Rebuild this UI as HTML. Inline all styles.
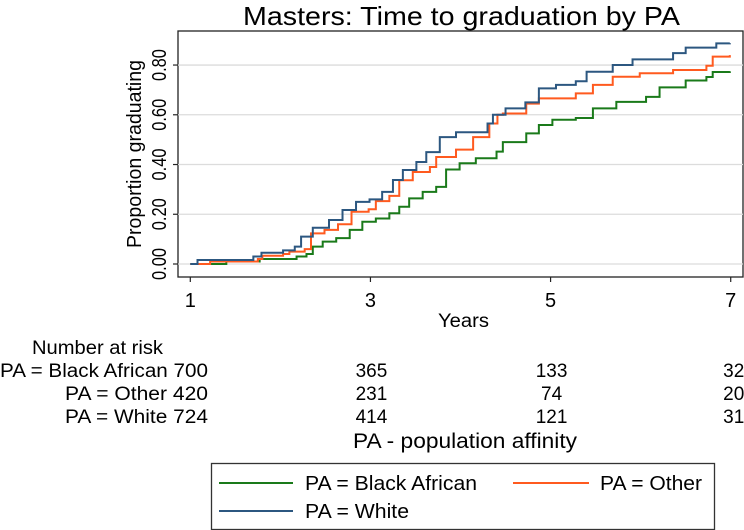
<!DOCTYPE html>
<html><head><meta charset="utf-8"><style>
body{margin:0;background:#fff;}
svg{display:block;font-family:"Liberation Sans",Arial,sans-serif;}
</style></head><body>
<svg id="chart" width="744" height="530" viewBox="0 0 744 530">
<text x="243" y="25" font-size="26" textLength="437" lengthAdjust="spacingAndGlyphs">Masters: Time to graduation by PA</text>
<rect x="178" y="31" width="565" height="246" fill="none" stroke="#222" stroke-width="1.3"/>
<g id="grid"></g><g id="axes"></g><g id="series"></g>
<text transform="translate(141,154) rotate(-90)" font-size="20" text-anchor="middle" textLength="188" lengthAdjust="spacingAndGlyphs">Proportion graduating</text>
<text x="438" y="327" font-size="19" textLength="51" lengthAdjust="spacingAndGlyphs">Years</text>
<text x="32" y="354" font-size="19" textLength="131" lengthAdjust="spacingAndGlyphs">Number at risk</text>
<g id="risk"></g>
<text x="353" y="448" font-size="21" textLength="224" lengthAdjust="spacingAndGlyphs">PA - population affinity</text>
<g>
<rect x="211.5" y="463.5" width="503" height="66" fill="#fff" stroke="#333" stroke-width="1.3"/>
<line x1="219" y1="483" x2="293" y2="483" stroke="#1a7a1a" stroke-width="2"/>
<text x="305" y="490" font-size="20" textLength="172" lengthAdjust="spacingAndGlyphs">PA = Black African</text>
<line x1="513" y1="483" x2="589" y2="483" stroke="#ff5a1f" stroke-width="2"/>
<text x="600" y="490" font-size="20" textLength="102" lengthAdjust="spacingAndGlyphs">PA = Other</text>
<line x1="219" y1="511" x2="293" y2="511" stroke="#2c5780" stroke-width="2"/>
<text x="305" y="518" font-size="20" textLength="104" lengthAdjust="spacingAndGlyphs">PA = White</text>
</g>
</svg>
<script>
const xTicks=[1,3,5,7];
const yTicks=[0,0.2,0.4,0.6,0.8];
const yTickLabels=["0.00","0.20","0.40","0.60","0.80"];
const groups=["PA = Black African","PA = Other","PA = White"];
const groupKeys=["black-african","other","white"];
const colors=["#1a7a1a","#ff5a1f","#2c5780"];
const baseN=[700,420,724];
const riskTimes=[3,5,7];
const riskBlack=[365,133,32];
const riskOther=[231,74,20];
const riskWhite=[414,121,31];
const tBlack=[1,1.4,1.77,2.18,2.29,2.36,2.47,2.62,2.77,2.91,3.06,3.21,3.32,3.43,3.58,3.73,3.84,3.99,4.17,4.4,4.47,4.73,4.87,5.02,5.28,5.47,5.73,6.06,6.21,6.5,6.73,6.8,6.99];
const vBlack=[0,0.01,0.02,0.03,0.04,0.07,0.09,0.104,0.137,0.17,0.183,0.204,0.23,0.264,0.29,0.31,0.38,0.405,0.425,0.452,0.49,0.525,0.559,0.58,0.587,0.626,0.652,0.672,0.71,0.738,0.752,0.772,0.775];
const tOther=[1,1.22,1.75,1.8,2.03,2.1,2.27,2.34,2.49,2.64,2.79,2.98,3.06,3.21,3.32,3.47,3.66,3.73,3.95,4.14,4.32,4.41,4.47,4.73,4.87,5.28,5.47,5.69,5.99,6.36,6.73,6.8,6.99];
const vOther=[0,0.01,0.02,0.033,0.04,0.05,0.06,0.123,0.137,0.16,0.21,0.22,0.253,0.274,0.337,0.37,0.39,0.43,0.46,0.51,0.565,0.6,0.605,0.645,0.666,0.686,0.72,0.753,0.767,0.78,0.797,0.834,0.84];
const tWhite=[1,1.08,1.7,1.79,2.03,2.16,2.23,2.36,2.54,2.69,2.84,2.99,3.13,3.25,3.36,3.51,3.62,3.77,3.95,4.3,4.36,4.5,4.72,4.87,5.06,5.28,5.4,5.69,5.91,6.36,6.5,6.84,6.99];
const vWhite=[0,0.016,0.03,0.045,0.055,0.07,0.11,0.146,0.177,0.217,0.25,0.26,0.29,0.338,0.378,0.41,0.45,0.51,0.53,0.565,0.6,0.626,0.65,0.706,0.72,0.735,0.773,0.8,0.823,0.848,0.87,0.887,0.888];
const NS="http://www.w3.org/2000/svg";
const X=t=>190.3+(t-1)*90.07;
const Y=v=>264-v*248.7;
function mk(tag,attrs,parent){const e=document.createElementNS(NS,tag);for(const k in attrs)e.setAttribute(k,attrs[k]);parent.appendChild(e);return e;}
const grid=document.getElementById('grid'),axes=document.getElementById('axes'),series=document.getElementById('series'),risk=document.getElementById('risk');
yTicks.forEach((v,i)=>{
  const g=mk('line',{x1:178,x2:743,y1:Y(v),y2:Y(v),stroke:'#dcdcdc','stroke-width':1.3},grid);
  
  
  const tk=mk('line',{x1:173,x2:178,y1:Y(v),y2:Y(v),stroke:'#222','stroke-width':1.2},axes);
  
  
  const tx=mk('text',{transform:`translate(166,${Y(v)}) rotate(-90)`,'font-size':20,'text-anchor':'middle',textLength:32,lengthAdjust:'spacingAndGlyphs'},axes);
  tx.textContent=yTickLabels[i];
  
  
});
xTicks.forEach(t=>{
  const tk=mk('line',{x1:X(t),x2:X(t),y1:277,y2:282,stroke:'#222','stroke-width':1.2},axes);
  
  
  const tx=mk('text',{x:X(t),y:307,'font-size':20,'text-anchor':'middle'},axes);
  tx.textContent=t;
  
  
});
const T=[tBlack,tOther,tWhite],V=[vBlack,vOther,vWhite];
T.forEach((ts,s)=>{
  let d='M'+X(ts[0])+','+Y(V[s][0]);
  for(let i=1;i<ts.length;i++){d+=' H'+X(ts[i])+' V'+Y(V[s][i]);}
  const p=mk('path',{d:d,fill:'none',stroke:colors[s],'stroke-width':2},series);
  
  
});
const R=[riskBlack,riskOther,riskWhite];const rowY=[377,400,423];const rowW=[208,143,143];
groups.forEach((g,s)=>{
  const l=mk('text',{x:208,y:rowY[s],'font-size':19,'text-anchor':'end',textLength:rowW[s],lengthAdjust:'spacingAndGlyphs'},risk);
  l.textContent=g+' '+baseN[s];
  
  
  riskTimes.forEach((t,j)=>{
    const c=mk('text',{x:X(t)+(t===7?3:1),y:rowY[s],'font-size':19,'text-anchor':'middle'},risk);
    c.textContent=R[s][j];
    
    
  });
});
</script>
</body></html>
